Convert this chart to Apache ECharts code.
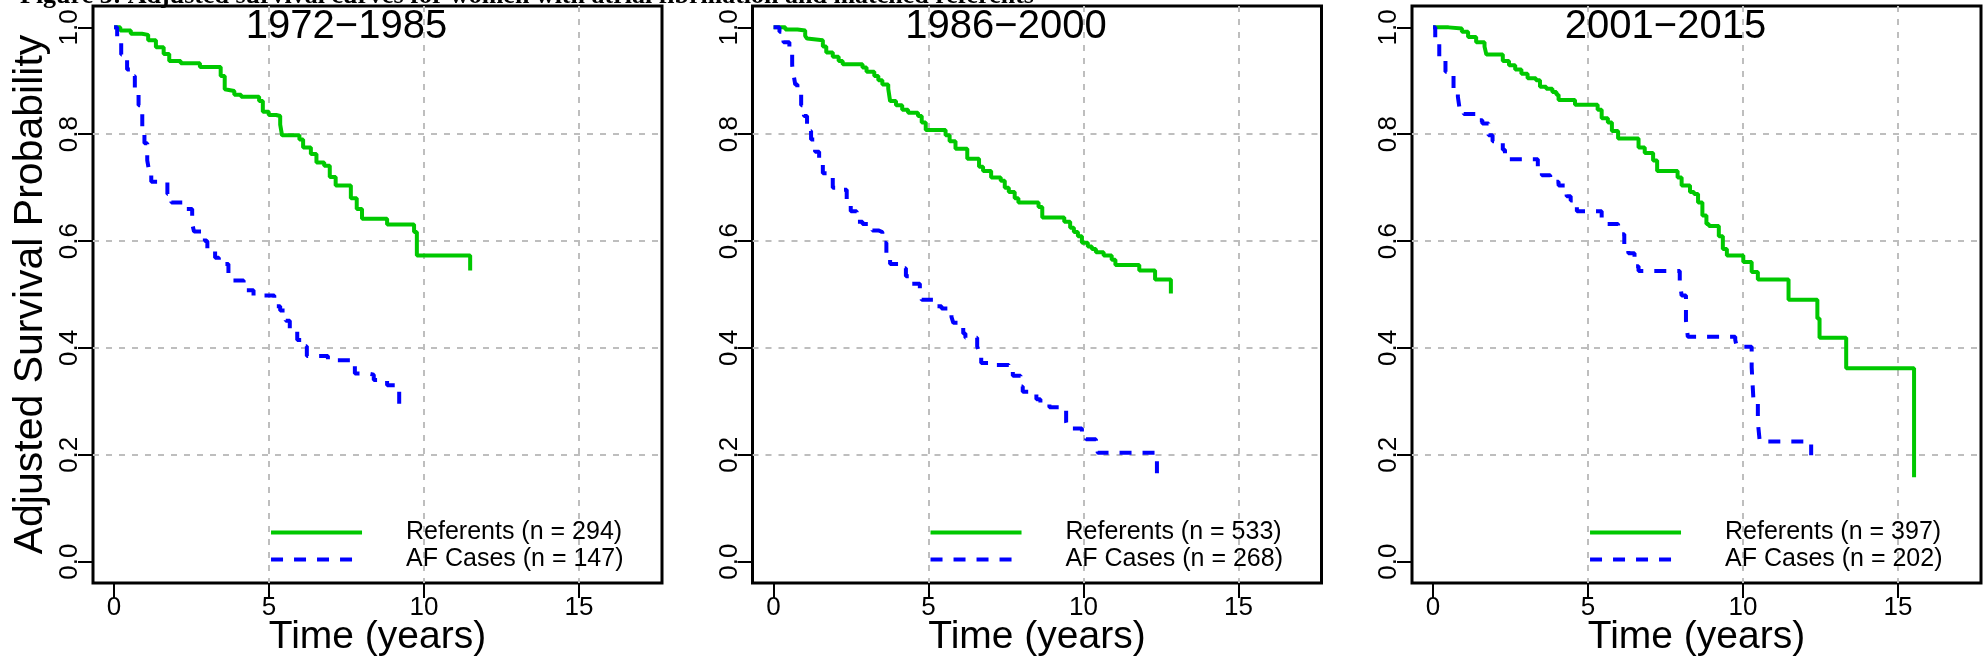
<!DOCTYPE html>
<html>
<head>
<meta charset="utf-8">
<script src="https://cdn.jsdelivr.net/npm/echarts@6/dist/echarts.min.js"></script>
<style>
html,body{margin:0;padding:0;background:#fff;}
#c{width:1985px;height:663px;}
</style>
</head>
<body>
<div id="c"></div>
<script>
// ---------------- data ----------------
const caption = 'Figure 3: Adjusted survival curves for women with atrial fibrillation and matched referents';
const periods = ['1972\u22121985', '1986\u22122000', '2001\u22122015'];
const refNames = ['Referents (n = 294)', 'Referents (n = 533)', 'Referents (n = 397)'];
const afNames = ['AF Cases (n = 147)', 'AF Cases (n = 268)', 'AF Cases (n = 202)'];
const xTicks = [0, 5, 10, 15];
const xGridValues = [5, 10, 15];
const yTicks = [0, 0.2, 0.4, 0.6, 0.8, 1.0];
const yGridValues = [0.2, 0.4, 0.6, 0.8];
const xName = 'Time (years)';
const yName = 'Adjusted Survival Probability';

// Panel 1: 1972-1985
const ref1Time = [0, 0.2, 0.54, 0.9, 1.1, 1.35, 1.6, 1.78, 2.15, 2.77, 3.44, 3.57, 3.63, 3.88, 4.1, 4.68, 4.8, 4.99, 5.23, 5.36, 5.42, 5.98, 6.1, 6.35, 6.53, 6.78, 6.96, 7.15, 7.64, 7.83, 8.0, 8.81, 9.68, 9.77, 11.49];
const ref1Surv = [1.0, 0.994, 0.988, 0.986, 0.976, 0.963, 0.95, 0.937, 0.933, 0.926, 0.909, 0.884, 0.881, 0.874, 0.870, 0.862, 0.842, 0.836, 0.834, 0.818, 0.798, 0.79, 0.775, 0.763, 0.747, 0.741, 0.72, 0.704, 0.68, 0.66, 0.642, 0.631, 0.617, 0.573, 0.545];
const af1Time = [0, 0.1, 0.23, 0.42, 0.54, 0.67, 0.79, 0.91, 0.98, 1.07, 1.12, 1.2, 1.72, 1.85, 2.33, 2.52, 2.58, 2.93, 3.01, 3.26, 3.38, 3.69, 3.75, 4.18, 4.25, 4.5, 5.17, 5.36, 5.54, 5.67, 5.91, 6.04, 6.22, 6.9, 7.64, 7.77, 8.2, 8.38, 8.81, 9.2, 9.45];
const af1Surv = [1.0, 0.98, 0.949, 0.921, 0.909, 0.885, 0.854, 0.814, 0.783, 0.751, 0.735, 0.711, 0.688, 0.672, 0.66, 0.632, 0.618, 0.6, 0.585, 0.569, 0.557, 0.538, 0.526, 0.518, 0.508, 0.498, 0.478, 0.47, 0.451, 0.435, 0.415, 0.403, 0.385, 0.377, 0.368, 0.352, 0.35, 0.34, 0.33, 0.293, 0.293];

// Panel 2: 1986-2000
const ref2Time = [0, 0.38, 0.77, 1.02, 1.08, 1.1, 1.59, 1.7, 1.91, 2.1, 2.23, 2.87, 3.0, 3.25, 3.38, 3.51, 3.7, 3.76, 3.95, 4.15, 4.34, 4.66, 4.78, 4.91, 5.55, 5.68, 5.87, 6.25, 6.63, 6.76, 7.02, 7.33, 7.46, 7.59, 7.78, 7.9, 8.55, 8.67, 9.38, 9.57, 9.69, 9.82, 9.95, 10.14, 10.27, 10.4, 10.65, 10.91, 11.03, 11.8, 12.31, 12.82];
const ref2Surv = [1.0, 0.996, 0.994, 0.984, 0.979, 0.976, 0.964, 0.953, 0.945, 0.937, 0.931, 0.925, 0.917, 0.909, 0.901, 0.893, 0.885, 0.862, 0.854, 0.846, 0.84, 0.834, 0.822, 0.808, 0.798, 0.787, 0.773, 0.754, 0.739, 0.731, 0.719, 0.713, 0.7, 0.692, 0.68, 0.672, 0.664, 0.644, 0.636, 0.625, 0.617, 0.609, 0.597, 0.59, 0.585, 0.579, 0.573, 0.565, 0.555, 0.545, 0.528, 0.502];
const af2Time = [0, 0.19, 0.32, 0.51, 0.6, 0.64, 0.7, 0.77, 0.89, 0.98, 1.08, 1.21, 1.34, 1.47, 1.59, 1.72, 1.91, 2.17, 2.36, 2.49, 2.68, 2.87, 3.19, 3.38, 3.51, 3.64, 3.76, 4.02, 4.27, 4.4, 4.72, 4.78, 5.17, 5.42, 5.74, 5.8, 6.12, 6.19, 6.57, 6.63, 6.7, 7.08, 7.59, 7.72, 7.97, 8.04, 8.48, 8.61, 8.9, 9.44, 9.5, 9.95, 10.08, 10.4, 10.46, 12.37];
const af2Surv = [1.0, 0.992, 0.972, 0.953, 0.929, 0.913, 0.893, 0.877, 0.854, 0.834, 0.806, 0.79, 0.767, 0.751, 0.727, 0.719, 0.7, 0.696, 0.672, 0.656, 0.636, 0.632, 0.62, 0.617, 0.597, 0.577, 0.557, 0.549, 0.534, 0.52, 0.506, 0.49, 0.478, 0.474, 0.458, 0.447, 0.427, 0.419, 0.403, 0.391, 0.372, 0.368, 0.36, 0.348, 0.328, 0.318, 0.304, 0.296, 0.289, 0.261, 0.249, 0.241, 0.229, 0.221, 0.204, 0.158];

// Panel 3: 2001-2015
const ref3Time = [0, 0.5, 0.93, 1.13, 1.39, 1.66, 1.72, 2.25, 2.45, 2.65, 2.85, 3.05, 3.32, 3.45, 3.65, 3.85, 3.98, 4.05, 4.58, 5.31, 5.44, 5.64, 5.77, 5.97, 6.63, 6.83, 7.1, 7.23, 7.89, 8.02, 8.29, 8.42, 8.55, 8.69, 8.82, 8.9, 9.22, 9.35, 9.48, 10.01, 10.28, 10.48, 11.47, 12.4, 12.47, 13.33, 15.52];
const ref3Surv = [1.0, 0.998, 0.992, 0.982, 0.972, 0.964, 0.949, 0.937, 0.929, 0.921, 0.913, 0.905, 0.901, 0.889, 0.885, 0.879, 0.874, 0.864, 0.855, 0.846, 0.83, 0.822, 0.806, 0.792, 0.775, 0.765, 0.751, 0.731, 0.719, 0.704, 0.692, 0.688, 0.672, 0.648, 0.632, 0.628, 0.609, 0.585, 0.573, 0.561, 0.542, 0.528, 0.49, 0.455, 0.419, 0.362, 0.158];
const af3Time = [0, 0.07, 0.2, 0.4, 0.53, 0.66, 0.8, 0.86, 0.99, 1.39, 1.59, 1.79, 1.92, 2.25, 2.32, 3.38, 3.51, 3.78, 4.05, 4.31, 4.44, 4.64, 5.44, 5.5, 5.97, 6.03, 6.17, 6.3, 6.5, 6.63, 7.96, 8.02, 8.16, 8.22, 9.75, 9.8, 10.28, 10.34, 10.48, 10.54, 12.2];
const af3Surv = [1.0, 0.972, 0.945, 0.917, 0.913, 0.885, 0.87, 0.846, 0.838, 0.826, 0.82, 0.798, 0.787, 0.771, 0.753, 0.735, 0.723, 0.711, 0.704, 0.684, 0.676, 0.656, 0.64, 0.632, 0.628, 0.613, 0.585, 0.577, 0.553, 0.544, 0.526, 0.498, 0.451, 0.421, 0.415, 0.402, 0.364, 0.3, 0.261, 0.225, 0.199];

const refTimes = [ref1Time, ref2Time, ref3Time];
const refSurvs = [ref1Surv, ref2Surv, ref3Surv];
const afTimes = [af1Time, af2Time, af3Time];
const afSurvs = [af1Surv, af2Surv, af3Surv];

// ---------------- layout / style ----------------
const FONT = '"Liberation Sans", Arial, Helvetica, sans-serif';
const GREEN = '#00c800';
const BLUE = '#0000ff';
const G_LEFT = 93, G_STEP = 659.5, G_W = 569, G_TOP = 6, G_H = 577;
const XMIN = -0.68, XMAX = 17.68, YMIN = -0.04, YMAX = 1.04;
const TITLE_AT = [7.5, 1.0];
const LEGEND_AT = [5, 0.08];

const zip = (t, s) => t.map((v, i) => [v, s[i]]);
const gridLineStyle = { color: '#bebebe', width: 2, type: [6, 7] };

const grids = [], xAxes = [], yAxes = [], series = [];
for (let i = 0; i < 3; i++) {
  grids.push({
    left: G_LEFT + i * G_STEP, top: G_TOP, width: G_W, height: G_H,
    show: true, borderColor: '#000', borderWidth: 3, backgroundColor: 'transparent'
  });
  // visible x axis (ticks, labels, title)
  xAxes.push({
    gridIndex: i, type: 'value', min: XMIN, max: XMAX, position: 'bottom',
    axisLine: { show: false, onZero: false },
    axisTick: { show: true, inside: false, customValues: xTicks, length: 15, lineStyle: { color: '#000', width: 2 } },
    axisLabel: { show: true, customValues: xTicks, fontSize: 26, color: '#000', fontFamily: FONT, margin: 12,
      formatter: v => String(v) },
    splitLine: { show: false },
    name: xName, nameLocation: 'middle', nameGap: 35, nameMoveOverlap: false,
    nameTextStyle: { fontSize: 39, color: '#000', fontFamily: FONT }
  });
  // x axis carrying only the dashed grid lines
  xAxes.push({
    gridIndex: i, type: 'value', min: XMIN, max: XMAX, position: 'bottom',
    axisLine: { show: false, onZero: false },
    axisTick: { show: false, customValues: xGridValues },
    axisLabel: { show: false, customValues: xGridValues },
    splitLine: { show: true, lineStyle: gridLineStyle }
  });
  yAxes.push({
    gridIndex: i, type: 'value', min: YMIN, max: YMAX, position: 'left',
    axisLine: { show: false, onZero: false },
    axisTick: { show: true, inside: false, customValues: yTicks, length: 15, lineStyle: { color: '#000', width: 2 } },
    axisLabel: { show: true, customValues: yTicks, fontSize: 26, color: '#000', fontFamily: FONT, margin: 10,
      rotate: 90, formatter: v => v.toFixed(1) },
    splitLine: { show: false },
    name: i === 0 ? yName : '', nameLocation: 'middle', nameGap: 42, nameMoveOverlap: false,
    nameTextStyle: { fontSize: 41, color: '#000', fontFamily: FONT }
  });
  yAxes.push({
    gridIndex: i, type: 'value', min: YMIN, max: YMAX, position: 'left',
    axisLine: { show: false, onZero: false },
    axisTick: { show: false, customValues: yGridValues },
    axisLabel: { show: false, customValues: yGridValues },
    splitLine: { show: true, lineStyle: gridLineStyle }
  });
  series.push({
    type: 'line', name: refNames[i], xAxisIndex: 2 * i, yAxisIndex: 2 * i,
    data: zip(refTimes[i], refSurvs[i]), step: 'end', symbol: 'none', showSymbol: false,
    lineStyle: { color: GREEN, width: 4, type: 'solid' }, itemStyle: { color: GREEN },
    z: 3
  });
  series.push({
    type: 'line', name: afNames[i], xAxisIndex: 2 * i, yAxisIndex: 2 * i,
    data: zip(afTimes[i], afSurvs[i]), step: 'end', symbol: 'none', showSymbol: false,
    lineStyle: { color: BLUE, width: 4, type: [12, 11] }, itemStyle: { color: BLUE },
    z: 3
  });
}

const chart = echarts.init(document.getElementById('c'), null, { renderer: 'canvas', width: 1985, height: 663 });
chart.setOption({
  animation: false,
  backgroundColor: '#fff',
  grid: grids, xAxis: xAxes, yAxis: yAxes, series: series
});

const legends = [];
const gfx = [{
  type: 'text', x: 20, y: 9, silent: true,
  style: { text: caption, fill: '#000', font: 'bold 26px "Liberation Serif", "Times New Roman", serif',
    align: 'left', verticalAlign: 'bottom' }
}];
for (let i = 0; i < 3; i++) {
  const t = chart.convertToPixel({ xAxisIndex: 2 * i, yAxisIndex: 2 * i }, TITLE_AT);
  gfx.push({
    type: 'text', x: t[0], y: t[1], silent: true,
    style: { text: periods[i], fill: '#000', font: '40px ' + FONT, align: 'center', verticalAlign: 'middle' }
  });
  const l = chart.convertToPixel({ xAxisIndex: 2 * i, yAxisIndex: 2 * i }, LEGEND_AT);
  legends.push({
    data: [refNames[i], afNames[i]], orient: 'vertical', left: l[0], top: l[1],
    padding: 0, itemGap: 0, itemWidth: 91, itemHeight: 14, selectedMode: false,
    lineStyle: { width: 4 },
    itemStyle: { opacity: 0, borderWidth: 0 },
    textStyle: { fontSize: 25, lineHeight: 27, color: '#000', fontFamily: FONT, padding: [0, 0, 0, 39] }
  });
}
chart.setOption({ legend: legends, graphic: gfx });
</script>
</body>
</html>
